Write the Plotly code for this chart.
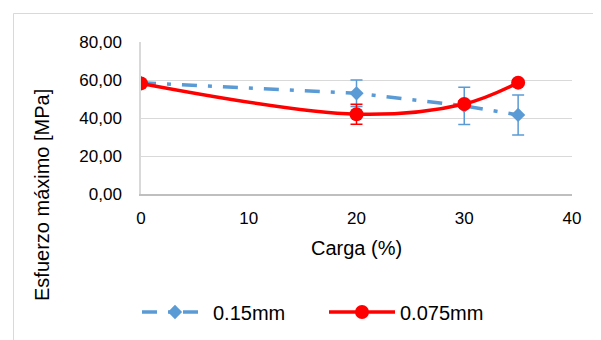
import plotly.graph_objects as go

# Data
carga = [0, 20, 30, 35]
esfuerzo_015 = [58.5, 53.0, 46.4, 41.6]
error_015 = [0.0, 7.0, 9.8, 10.5]
esfuerzo_0075 = [58.2, 42.0, 47.4, 58.6]
error_0075 = [0.0, 5.3, 1.5, 1.5]
series_names = ["0.15mm", "0.075mm"]
y_ticks = [0, 20, 40, 60, 80]
y_tick_labels = ["0,00", "20,00", "40,00", "60,00", "80,00"]
x_ticks = [0, 10, 20, 30, 40]

BLUE = "#5b9bd5"
RED = "#ff0000"
FONT = "Liberation Sans, Arial, sans-serif"

W, H = 601, 340
OFF = 8  # page body margin
L, R, T, B = 141 - OFF, 37, 42 - OFF, 154
pw, ph = W - L - R, H - T - B


def px_to_paper_x(px):
    return (px - OFF - L) / pw


def px_to_paper_y(py):
    return (H - B - (py - OFF)) / ph


fig = go.Figure()

fig.add_trace(go.Scatter(
    x=carga, y=esfuerzo_015, name=series_names[0], mode="lines+markers",
    line=dict(color=BLUE, width=3.5, dash="15px,11px,4px,11px"),
    marker=dict(symbol="diamond", size=11, color=BLUE),
    error_y=dict(type="data", array=error_015, visible=True,
                 color=BLUE, thickness=1.5, width=6),
))
fig.add_trace(go.Scatter(
    x=carga, y=esfuerzo_0075, name=series_names[1], mode="lines+markers",
    line=dict(color=RED, width=3.5, shape="spline", smoothing=1),
    marker=dict(symbol="circle", size=14, color=RED),
    error_y=dict(type="data", array=error_0075, visible=True,
                 color=RED, thickness=1.5, width=6),
))

fig.update_layout(
    width=W, height=H,
    margin=dict(l=L, r=R, t=T, b=B, autoexpand=False),
    paper_bgcolor="white", plot_bgcolor="white",
    font=dict(family=FONT, color="#000000", size=17),
    showlegend=True,
    legend=dict(orientation="h", x=px_to_paper_x(137), xanchor="left",
                y=px_to_paper_y(312), yanchor="middle",
                font=dict(size=20, family=FONT, color="#000000"),
                itemwidth=66, entrywidth=106, entrywidthmode="pixels",
                bgcolor="rgba(0,0,0,0)"),
)

fig.update_xaxes(
    range=[0, 40], tickmode="array", tickvals=x_ticks,
    ticktext=[str(v) for v in x_ticks], automargin=False,
    showgrid=False, zeroline=False, showline=True, linecolor="#bfbfbf",
    linewidth=1.5, ticks="", ticklabelstandoff=8,
    tickfont=dict(size=17, family=FONT, color="#000000"),
)
fig.update_yaxes(
    range=[0, 80], tickmode="array", tickvals=y_ticks, ticktext=y_tick_labels,
    automargin=False,
    showgrid=True, gridcolor="#d9d9d9", gridwidth=1.2, zeroline=False,
    showline=True, linecolor="#d9d9d9", linewidth=1.5, ticks="",
    ticklabelstandoff=14,
    tickfont=dict(size=17, family=FONT, color="#000000"),
)

fig.add_annotation(
    text="Carga (%)", xref="paper", yref="paper",
    x=px_to_paper_x(356.5), y=px_to_paper_y(248),
    xanchor="center", yanchor="middle", showarrow=False,
    font=dict(size=20, family=FONT, color="#000000"),
)
fig.add_annotation(
    text="Esfuerzo máximo [MPa]", xref="paper", yref="paper",
    x=px_to_paper_x(42), y=px_to_paper_y(195), textangle=-90,
    xanchor="center", yanchor="middle", showarrow=False,
    font=dict(size=20, family=FONT, color="#000000"),
)

# chart border (partially outside the picture, as in the reference)
fig.add_shape(
    type="rect", xref="paper", yref="paper",
    x0=px_to_paper_x(13.5), x1=px_to_paper_x(640),
    y0=px_to_paper_y(380), y1=px_to_paper_y(13.5),
    line=dict(color="#d9d9d9", width=1), fillcolor="rgba(0,0,0,0)",
    layer="below",
)

fig.write_html("out.html")
